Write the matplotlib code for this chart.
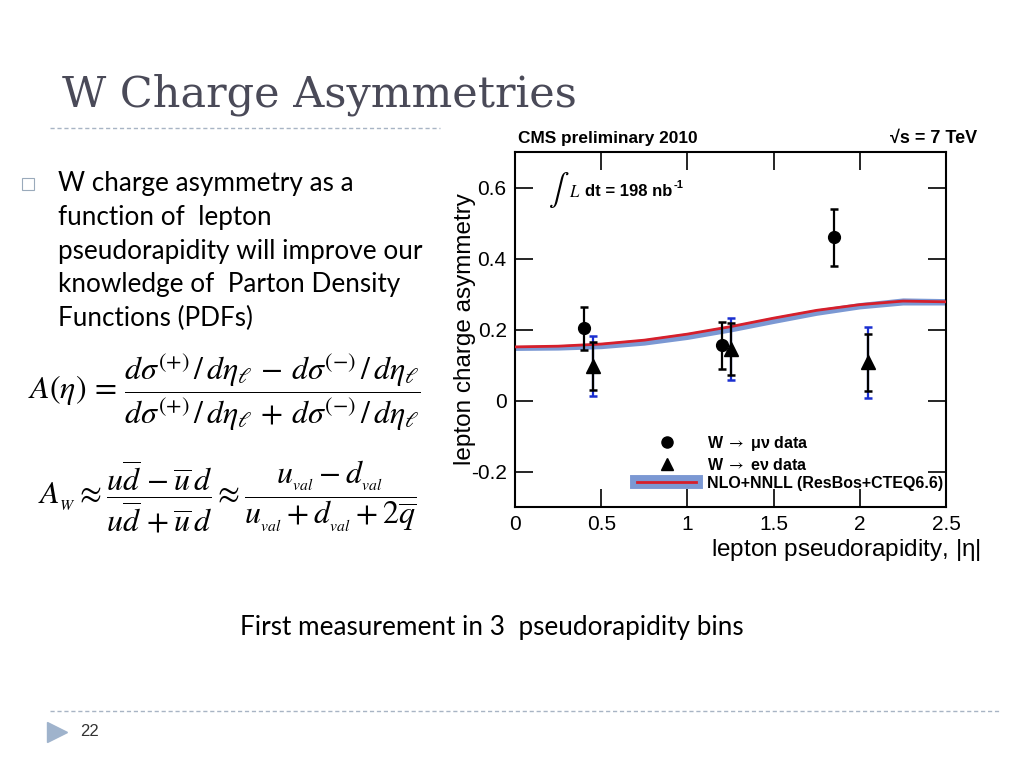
import matplotlib
matplotlib.use("Agg")
import matplotlib.pyplot as plt
from matplotlib.lines import Line2D
import numpy as np

# ---- data ----
eta_mu = [0.40, 1.20, 1.85]
A_mu = [0.203, 0.156, 0.460]
err_mu = [0.060, 0.066, 0.080]

eta_e = [0.45, 1.25, 2.05]
A_e = [0.098, 0.145, 0.108]
stat_e = [0.068, 0.072, 0.080]
tot_e = [0.085, 0.088, 0.100]

eta_th = [0.0, 0.25, 0.5, 0.75, 1.0, 1.25, 1.5, 1.75, 2.0, 2.25, 2.5]
A_th = [0.151, 0.153, 0.159, 0.170, 0.187, 0.208, 0.232, 0.254, 0.270, 0.280, 0.278]
A_th_lo = [0.141, 0.142, 0.146, 0.156, 0.172, 0.193, 0.217, 0.240, 0.258, 0.269, 0.269]
A_th_hi = [0.155, 0.157, 0.163, 0.174, 0.191, 0.212, 0.236, 0.258, 0.276, 0.289, 0.287]

xticks = [0, 0.5, 1, 1.5, 2, 2.5]
xticklabels = ["0", "0.5", "1", "1.5", "2", "2.5"]
yticks = [-0.2, 0, 0.2, 0.4, 0.6]
yticklabels = ["-0.2", "0", "0.2", "0.4", "0.6"]

plt.rcParams['mathtext.fontset'] = 'stix'
SANS = ['Liberation Sans', 'DejaVu Sans']
BODY = ['Lato', 'DejaVu Sans']

fig = plt.figure(figsize=(10.24, 7.68), dpi=100)
fig.patch.set_facecolor('white')

W, H = 1024.0, 768.0
def fx(px): return px / W
def fy(py): return 1 - py / H

# ---- slide decorations ----
fig.text(fx(62), fy(106), "W Charge Asymmetries", family=['DejaVu Serif'],
         fontsize=31, color='#4a4a58', va='baseline', ha='left')
fig.add_artist(Line2D([fx(50), fx(440)], [fy(128), fy(128)], color='#a8b4c4',
                      lw=1, ls=(0, (3, 2))))
fig.add_artist(Line2D([fx(50), fx(1000)], [fy(711), fy(711)], color='#a8b4c4',
                      lw=1, ls=(0, (3, 2))))
fig.add_artist(Line2D([fx(57)], [fy(732)], marker='>', markersize=15, color='#9fb3cc', lw=0))
fig.text(fx(80), fy(732), "22", family=SANS, fontsize=12, color='#333333', va='center')

# bullet
fig.add_artist(Line2D([fx(28)], [fy(184)], marker='s', markersize=8, markerfacecolor='white',
                      markeredgecolor='#9aaabb', markeredgewidth=0.8, lw=0))
lines = ["W charge asymmetry as a", "function of  lepton", "pseudorapidity will improve our",
         "knowledge of  Parton Density", "Functions (PDFs)"]
for i, t in enumerate(lines):
    fig.text(fx(58), fy(184 + i * 33.6), t, family=BODY, fontsize=18.8,
             color='black', va='center', ha='left')

# formulas
fig.text(fx(28), fy(392),
         r'$A(\eta)\,=\,\dfrac{d\sigma^{(+)}\,/\,d\eta_\ell\,-\,d\sigma^{(-)}\,/\,d\eta_\ell}{d\sigma^{(+)}\,/\,d\eta_\ell\,+\,d\sigma^{(-)}\,/\,d\eta_\ell}$',
         fontsize=23, va='center', ha='left')
fig.text(fx(38), fy(497),
         r'$A_{_W}\approx\dfrac{u\overline{d}\,-\overline{u}\,d}{u\overline{d}\,+\overline{u}\,d}\approx\dfrac{u_{_{val}}-d_{_{val}}}{u_{_{val}}+d_{_{val}}+2\overline{q}}$',
         fontsize=23, va='center', ha='left')

fig.text(fx(492), fy(627), "First measurement in 3  pseudorapidity bins",
         family=BODY, fontsize=18.8, va='center', ha='center')

# ---- main plot ----
ax = fig.add_axes([fx(515), fy(507), (946 - 515) / W, (507 - 152) / H])
ax.set_xlim(0, 2.5)
ax.set_ylim(-0.3, 0.7)

ax.fill_between(eta_th, A_th_lo, A_th_hi, color='#7b98d3', lw=0, zorder=2)
ax.plot(eta_th, A_th, color='#d61f2b', lw=2.0, zorder=3)

ax.errorbar(eta_e, A_e, yerr=tot_e, fmt='none', ecolor='#1a2fd0', elinewidth=1.6,
            capsize=3, capthick=1.8, zorder=4)
ax.errorbar(eta_e, A_e, yerr=stat_e, fmt='^', color='black', ms=9.5, elinewidth=1.6,
            capsize=3, capthick=1.8, zorder=5)
ax.errorbar(eta_mu, A_mu, yerr=err_mu, fmt='o', color='black', ms=8.5, elinewidth=1.6,
            capsize=3, capthick=1.8, zorder=5)

for s in ax.spines.values():
    s.set_linewidth(1.5)
ax.set_xticks(xticks)
ax.set_xticklabels(xticklabels)
ax.set_yticks(yticks)
ax.set_yticklabels(yticklabels)
ax.tick_params(direction='in', length=13, width=1.2, top=True, right=True,
               labelsize=15, pad=6)
for lab in ax.get_xticklabels() + ax.get_yticklabels():
    lab.set_family(SANS)

ax.set_ylabel("lepton charge asymmetry", family=SANS, fontsize=17.5)
ax.yaxis.set_label_coords(-0.09, 0.5)
ax.set_xlabel(r"lepton pseudorapidity, |$\mathregular{\eta}$|", family=SANS, fontsize=17.5)
ax.xaxis.set_label_coords(1.08, -0.085)
ax.xaxis.label.set_ha('right')

fig.text(fx(518), fy(138), "CMS preliminary 2010", family=SANS, fontsize=12.4,
         fontweight='bold', va='center', ha='left')
fig.text(fx(977), fy(138), "\u221as = 7 TeV", family=SANS, fontsize=13,
         fontweight='bold', va='center', ha='right')
ax.text(0.19, 0.593, r"$\int$", fontsize=22, va='center', ha='left')
ax.text(0.315, 0.588, r"$L$", fontsize=12, va='center', ha='left')
lumi = ax.text(0.405, 0.59, "dt = 198 nb", family=SANS, fontsize=12,
               fontweight='bold', va='center', ha='left')
ax.annotate("-1", xy=(1.0, 1.0), xycoords=lumi, xytext=(1, -1), textcoords='offset points',
            family=SANS, fontsize=8, fontweight='bold', va='center', ha='left')

h_mu = Line2D([], [], marker='o', color='black', ms=8, lw=0)
h_e = Line2D([], [], marker='^', color='black', ms=8.5, lw=0)
h_th = (Line2D([], [], color='#7b98d3', lw=10), Line2D([], [], color='#d61f2b', lw=2))
leg = ax.legend([h_mu, h_e, h_th],
                [r"W $\rightarrow$ $\mathregular{\mu\nu}$ data", r"W $\rightarrow$ e$\mathregular{\nu}$ data",
                 "NLO+NNLL (ResBos+CTEQ6.6)"],
                loc='lower left', bbox_to_anchor=(0.283, 0.045), frameon=False,
                borderpad=0, borderaxespad=0,
                handlelength=3.7, handletextpad=0.7, labelspacing=0.22,
                prop={'family': SANS, 'weight': 'bold', 'size': 11.5})

fig.savefig("out.png", dpi=100, facecolor='white')
